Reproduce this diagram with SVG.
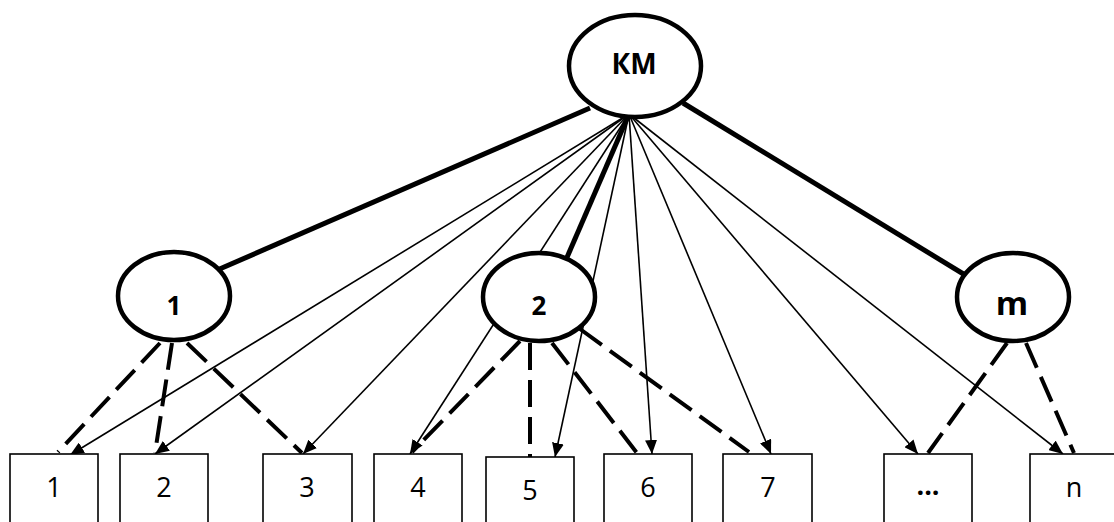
<svg xmlns="http://www.w3.org/2000/svg" width="1114" height="522" viewBox="0 0 1114 522">
<style>
.thin{stroke:#000;stroke-width:1.6;fill:none}
.thick{stroke:#000;stroke-width:5;fill:none}
.dash{stroke:#000;stroke-width:4;fill:none;stroke-dasharray:27 10}
.ell{fill:#fff;stroke:#000;stroke-width:4.5}
.box{fill:#fff;stroke:#000;stroke-width:1.6}
.lbl{font-family:"Open Sans","Liberation Sans",sans-serif;font-weight:bold;text-anchor:middle;fill:#000}
.num{font-family:"Open Sans","Liberation Sans",sans-serif;font-size:27px;text-anchor:middle;fill:#000}
</style>
<defs>
<marker id="ah" markerUnits="userSpaceOnUse" markerWidth="14" markerHeight="12" refX="14" refY="6" orient="auto">
<path d="M0,0 L14,6 L0,12 z" fill="#000"/>
</marker>
</defs>
<g id="connectors">
<line class="thin" x1="629" y1="114" x2="70" y2="455" marker-end="url(#ah)"/>
<line class="thin" x1="629" y1="114" x2="155" y2="454" marker-end="url(#ah)"/>
<line class="thin" x1="629" y1="114" x2="303" y2="454" marker-end="url(#ah)"/>
<line class="thin" x1="629" y1="114" x2="410" y2="454" marker-end="url(#ah)"/>
<line class="thin" x1="629" y1="114" x2="555" y2="457" marker-end="url(#ah)"/>
<line class="thin" x1="629" y1="114" x2="652" y2="454" marker-end="url(#ah)"/>
<line class="thin" x1="629" y1="114" x2="771" y2="454" marker-end="url(#ah)"/>
<line class="thin" x1="629" y1="114" x2="918" y2="454" marker-end="url(#ah)"/>
<line class="thin" x1="629" y1="114" x2="1063" y2="454" marker-end="url(#ah)"/>
<line class="thick" x1="590" y1="108" x2="215" y2="271"/>
<line class="thick" x1="683" y1="103" x2="970" y2="278"/>
<line class="thick" x1="629" y1="114" x2="565" y2="262"/>
<line class="dash" x1="160" y1="343" x2="58" y2="452"/>
<line class="dash" x1="172" y1="343" x2="155" y2="453"/>
<line class="dash" x1="187" y1="343" x2="302" y2="453"/>
<line class="dash" x1="520" y1="341" x2="412" y2="452"/>
<line class="dash" x1="530" y1="343" x2="530" y2="457"/>
<line class="dash" x1="552" y1="343" x2="637" y2="453"/>
<line class="dash" x1="580" y1="329" x2="749" y2="452"/>
<line class="dash" x1="1007" y1="343" x2="928" y2="453"/>
<line class="dash" x1="1026" y1="343" x2="1074" y2="453"/>
</g>
<g id="km"><ellipse class="ell" cx="635" cy="66" rx="66" ry="51"/><text class="lbl" x="634" y="74" font-size="28">КМ</text></g>
<g id="g1"><ellipse class="ell" cx="174" cy="296" rx="56" ry="44"/><text class="lbl" x="174" y="315" font-size="26">1</text></g>
<g id="g2"><ellipse class="ell" cx="539" cy="297" rx="56" ry="44"/><text class="lbl" x="539" y="315" font-size="26">2</text></g>
<g id="gm"><ellipse class="ell" cx="1013" cy="297" rx="56" ry="44"/><text class="lbl" x="1012" y="315" font-size="33">m</text></g>
<g id="b1"><rect class="box" x="10" y="454" width="88" height="80"/><text class="num" x="54" y="497">1</text></g>
<g id="b2"><rect class="box" x="120" y="454" width="88" height="80"/><text class="num" x="164" y="497">2</text></g>
<g id="b3"><rect class="box" x="263" y="454" width="89" height="80"/><text class="num" x="307" y="497">3</text></g>
<g id="b4"><rect class="box" x="374" y="454" width="88" height="80"/><text class="num" x="418" y="497">4</text></g>
<g id="b5"><rect class="box" x="486" y="457" width="88" height="80"/><text class="num" x="530" y="500">5</text></g>
<g id="b6"><rect class="box" x="604" y="454" width="88" height="80"/><text class="num" x="648" y="497">6</text></g>
<g id="b7"><rect class="box" x="723" y="454" width="89" height="80"/><text class="num" x="768" y="497">7</text></g>
<g id="b8"><rect class="box" x="884" y="454" width="88" height="80"/><text class="num" x="928" y="495" font-weight="bold">...</text></g>
<g id="bn"><rect class="box" x="1030" y="454" width="88" height="80"/><text class="num" x="1074" y="497">n</text></g>
</svg>
